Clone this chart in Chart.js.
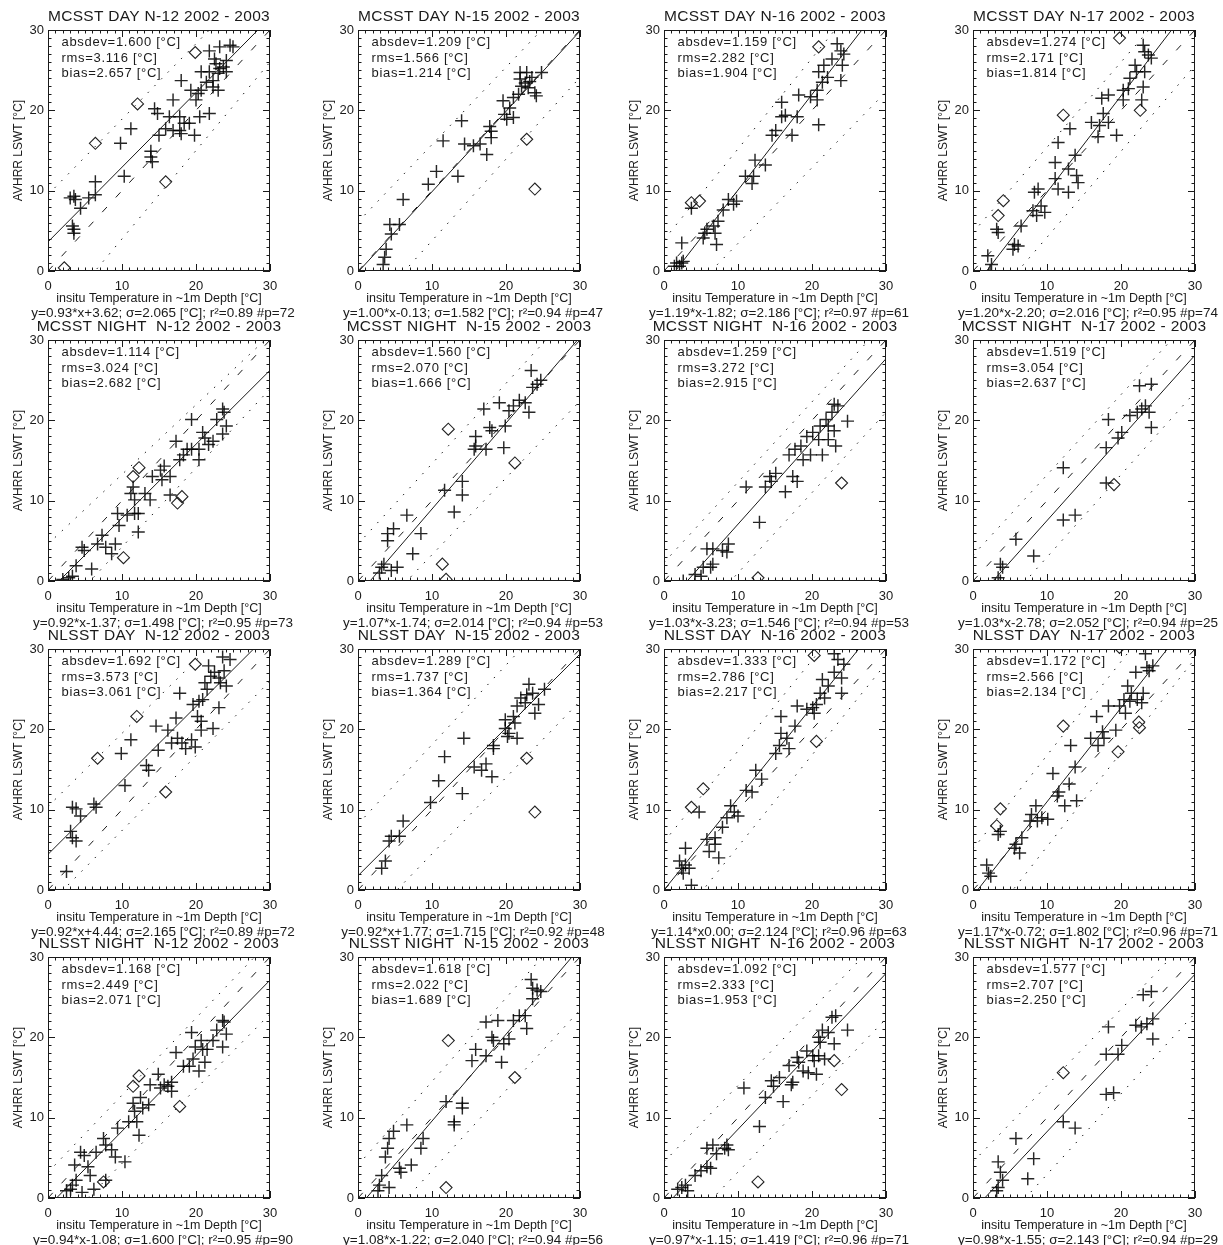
<!DOCTYPE html>
<html>
<head>
<meta charset="utf-8">
<title>AVHRR LSWT vs insitu temperature</title>
<script src="https://cdn.jsdelivr.net/npm/chart.js@4.4.1/dist/chart.umd.min.js"></script>
<style>
  html, body { margin: 0; padding: 0; background: #fff; }
  body { width: 1223px; height: 1245px; position: relative; overflow: hidden; }
  canvas { position: absolute; }
</style>
</head>
<body>
<script>
// ---- values ----
const titles = [
  "MCSST DAY N-12 2002 - 2003", "MCSST DAY N-15 2002 - 2003", "MCSST DAY N-16 2002 - 2003", "MCSST DAY N-17 2002 - 2003",
  "MCSST NIGHT  N-12 2002 - 2003", "MCSST NIGHT  N-15 2002 - 2003", "MCSST NIGHT  N-16 2002 - 2003", "MCSST NIGHT  N-17 2002 - 2003",
  "NLSST DAY  N-12 2002 - 2003", "NLSST DAY  N-15 2002 - 2003", "NLSST DAY  N-16 2002 - 2003", "NLSST DAY  N-17 2002 - 2003",
  "NLSST NIGHT  N-12 2002 - 2003", "NLSST NIGHT  N-15 2002 - 2003", "NLSST NIGHT  N-16 2002 - 2003", "NLSST NIGHT  N-17 2002 - 2003"
];
const axisTicks = [0, 10, 20, 30];

const fitA   = [0.93, 1.00, 1.19, 1.20,  0.92, 1.07, 1.03, 1.03,  0.92, 0.92, 1.14, 1.17,  0.94, 1.08, 0.97, 0.98];
const fitB   = [3.62, -0.13, -1.82, -2.20,  -1.37, -1.74, -3.23, -2.78,  4.44, 1.77, 0.00, -0.72,  -1.08, -1.22, -1.15, -1.55];
const sigma  = [2.065, 1.582, 2.186, 2.016,  1.498, 2.014, 1.546, 2.052,  2.165, 1.715, 2.124, 1.802,  1.600, 2.040, 1.419, 2.143];
const rsq    = [0.89, 0.94, 0.97, 0.95,  0.95, 0.94, 0.94, 0.94,  0.89, 0.92, 0.96, 0.96,  0.95, 0.94, 0.96, 0.94];
const nPts   = [72, 47, 61, 74,  73, 53, 53, 25,  72, 48, 63, 71,  90, 56, 71, 29];
const absdev = [1.600, 1.209, 1.159, 1.274,  1.114, 1.560, 1.259, 1.519,  1.692, 1.289, 1.333, 1.172,  1.168, 1.618, 1.092, 1.577];
const rms    = [3.116, 1.566, 2.282, 2.171,  3.024, 2.070, 3.272, 3.054,  3.573, 1.737, 2.786, 2.566,  2.449, 2.022, 2.333, 2.707];
const bias   = [2.657, 1.214, 1.904, 1.814,  2.682, 1.666, 2.915, 2.637,  3.061, 1.364, 2.217, 2.134,  2.071, 1.689, 1.953, 2.250];

// dotted band lines: [y at x=0, y at x=30]
const upperBand = [[9.5,37.7],[6.1,35.0],[3.9,37.8],[4.8,36.6], [4.6,30.6],[4.6,34.6],[2.3,32.3],[3.2,33.2],
                   [10.4,37.7],[8.2,37.9],[6.0,39.9],[5.1,40.1], [3.2,32.0],[4.1,35.3],[4.5,33.0],[4.5,33.0]];
const lowerBand = [[-7.0,26.0],[-6.4,24.1],[-6.0,22.3],[-6.5,25.6], [-5.6,23.9],[-6.3,22.4],[-9.0,21.0],[-7.3,23.5],
                   [-1.9,26.0],[-5.0,23.5],[-6.0,28.2],[-6.3,28.8], [-5.0,22.9],[-6.6,23.4],[-6.3,22.3],[-7.1,23.0]];

// scatter points [insitu, AVHRR]
const cross01 = [[3.5,9.3],[3.7,8.9],[3.0,9.1],[3.3,5.6],[3.5,4.7],[3.5,5.2],[4.4,7.8],[6.4,11.1],[6.4,9.5],[5.5,9.1],[9.8,15.9],[10.3,11.8],[11.2,17.7],[13.9,14.9],[13.9,14.2],[14.1,13.6],[14.4,20.2],[14.8,19.6],[15.0,16.9],[15.9,17.7],[16.9,21.3],[16.4,19.2],[16.9,17.5],[18.0,23.7],[17.8,19.2],[17.8,17.5],[18.4,18.4],[18.0,17.1],[19.3,22.5],[19.8,16.9],[19.1,18.4],[20.0,21.3],[20.3,22.1],[20.7,22.5],[20.5,19.2],[21.8,19.6],[20.7,24.8],[21.4,23.5],[21.8,27.4],[21.8,24.8],[22.3,23.7],[22.5,26.4],[22.7,25.8],[23.0,24.6],[23.2,25.2],[23.2,27.9],[24.6,28.1],[24.1,26.2],[23.7,25.4],[24.1,24.8],[23.0,22.5],[25.0,27.9],[22.3,22.9]];
const diam01 = [[2.2,0.4],[6.4,15.9],[12.1,20.8],[15.9,11.1],[19.9,27.2]];

const cross02 = [[3.4,0.8],[3.6,1.7],[3.8,2.7],[4.5,4.6],[4.3,5.8],[5.6,5.8],[6.1,8.9],[9.5,10.8],[10.6,12.4],[11.5,16.2],[13.5,11.8],[14.0,18.7],[14.4,15.8],[15.6,15.6],[16.5,15.8],[17.4,14.5],[17.8,18.0],[18.0,17.4],[18.0,16.6],[19.6,21.2],[19.8,19.5],[20.1,18.9],[20.5,20.3],[21.0,19.1],[21.0,21.6],[21.7,22.0],[21.9,23.9],[22.1,23.0],[22.6,23.4],[22.8,24.7],[23.0,22.8],[23.5,24.1],[23.9,22.2],[24.1,21.8],[24.8,24.7],[21.9,24.7],[23.2,23.6]];
const diam02 = [[22.8,16.4],[23.9,10.2]];

const cross03 = [[1.4,0.6],[1.7,1.0],[2.1,0.6],[2.4,1.0],[2.6,1.2],[2.4,3.5],[5.3,4.1],[5.5,4.7],[5.8,5.2],[6.7,5.6],[6.9,4.7],[7.1,3.3],[7.3,6.2],[8.0,7.6],[8.7,8.9],[9.4,8.3],[9.8,8.7],[3.7,7.8],[11.0,11.8],[11.9,10.9],[12.1,11.8],[12.3,13.8],[13.7,13.2],[14.6,16.9],[15.1,17.5],[15.9,21.0],[15.9,19.2],[16.4,19.4],[17.3,16.9],[18.2,21.9],[18.0,19.2],[19.8,21.7],[20.7,22.5],[20.7,21.3],[20.9,18.2],[20.9,24.8],[21.4,23.5],[21.6,25.6],[22.1,24.1],[22.7,26.4],[23.4,28.3],[23.9,27.4],[24.3,27.0],[23.9,23.7],[24.1,25.6]];
const diam03 = [[3.7,8.5],[4.8,8.7],[20.9,27.9]];

const cross04 = [[2.3,0.0],[2.5,0.8],[2.0,1.9],[3.2,5.2],[3.4,4.8],[5.4,2.7],[5.6,3.3],[6.1,3.1],[6.5,5.6],[8.1,7.5],[8.3,9.8],[8.8,10.2],[9.2,8.1],[9.7,7.3],[8.6,6.9],[11.1,11.5],[11.5,10.2],[11.1,13.5],[11.5,16.0],[12.9,9.8],[12.9,12.7],[13.1,17.7],[13.8,14.4],[14.0,11.9],[14.2,11.0],[16.0,18.5],[17.1,18.1],[17.6,19.6],[17.4,21.5],[16.9,16.7],[18.3,18.5],[19.4,16.9],[18.3,21.9],[20.3,22.5],[21.0,22.7],[20.3,21.3],[21.2,24.0],[21.9,25.6],[22.1,24.8],[23.0,28.1],[23.2,24.8],[23.0,22.9],[23.2,27.3],[23.7,26.9],[24.1,26.5],[22.8,21.3]];
const diam04 = [[4.1,8.75],[3.4,6.9],[12.2,19.4],[19.8,29.0],[22.6,20.0]];

const cross05 = [[2.0,0.2],[2.8,0.4],[3.3,0.6],[3.8,1.9],[4.6,4.2],[4.9,3.8],[5.9,1.5],[6.7,4.6],[7.3,5.7],[7.8,4.2],[8.6,3.4],[9.1,4.6],[9.6,6.9],[9.4,8.4],[10.7,8.2],[11.2,10.9],[11.5,11.7],[11.7,10.1],[11.7,8.4],[12.2,8.4],[12.2,6.1],[13.1,10.9],[13.8,10.1],[14.1,13.0],[15.2,13.8],[15.4,12.6],[15.7,14.3],[16.5,13.0],[16.5,10.7],[17.3,17.4],[17.8,15.1],[18.3,15.7],[18.8,16.4],[19.4,20.1],[19.4,16.4],[20.4,15.1],[20.4,16.4],[20.9,18.5],[21.2,17.8],[21.7,17.0],[22.3,17.4],[22.8,20.1],[23.6,21.4],[23.8,21.0],[24.1,19.3],[23.6,18.3]];
const diam05 = [[10.2,2.9],[11.5,13.0],[12.3,14.1],[17.5,9.7],[18.1,10.5]];

const cross06 = [[3.2,1.7],[2.9,1.0],[3.5,2.1],[4.0,5.0],[4.0,5.9],[4.8,6.5],[5.3,1.7],[4.5,1.3],[6.6,8.2],[7.4,3.4],[8.5,5.9],[11.7,11.3],[13.0,8.6],[14.1,12.4],[14.1,10.7],[15.7,16.4],[15.9,18.0],[17.0,21.4],[15.9,16.8],[17.3,16.4],[17.8,19.1],[18.1,18.7],[19.1,22.2],[19.7,16.6],[19.9,19.3],[20.4,21.2],[21.0,21.8],[22.6,22.2],[21.8,22.5],[23.1,21.0],[23.4,26.2],[23.6,24.1],[24.2,24.5],[24.7,25.0]];
const diam06 = [[12.2,18.9],[21.2,14.7],[11.4,2.1],[11.9,0.2]];

const cross07 = [[2.6,0.0],[4.2,0.8],[5.0,0.6],[5.3,1.7],[6.3,1.7],[6.6,2.1],[5.8,4.0],[6.6,4.0],[7.9,3.8],[8.5,3.6],[8.7,4.6],[11.1,11.7],[12.9,7.3],[13.7,11.7],[14.3,13.0],[15.1,13.4],[14.5,12.4],[16.4,11.1],[16.9,15.7],[17.4,13.0],[17.7,16.4],[18.0,12.4],[18.5,16.8],[18.8,15.1],[19.3,18.0],[19.8,15.7],[20.1,18.5],[20.9,17.6],[21.1,19.3],[21.4,15.7],[21.9,20.1],[22.2,19.3],[22.7,21.0],[23.0,22.0],[23.2,16.8],[23.0,18.7],[23.5,21.8],[24.8,19.9],[22.2,17.6]];
const diam07 = [[12.7,0.4],[24.0,12.2]];

const cross08 = [[3.4,0.4],[3.7,0.0],[3.7,2.1],[4.0,1.7],[5.8,5.2],[8.2,3.1],[12.2,14.1],[12.2,7.6],[13.8,8.2],[18.0,12.2],[18.3,20.1],[18.0,16.6],[19.6,17.8],[20.1,18.5],[21.2,20.6],[22.2,21.0],[22.5,24.3],[22.8,21.4],[23.3,21.8],[24.1,24.5],[24.1,19.1],[23.8,21.0]];
const diam08 = [[19.05,12.0]];

const cross09 = [[2.5,2.3],[3.05,7.3],[3.3,6.5],[3.8,6.1],[3.3,10.3],[3.8,10.1],[4.4,9.2],[6.2,10.7],[6.5,10.3],[10.4,13.0],[9.9,17.0],[11.2,18.7],[13.3,15.5],[13.6,14.9],[14.6,20.4],[14.9,17.4],[16.2,19.9],[16.7,18.3],[17.3,21.4],[17.5,18.9],[17.8,24.5],[18.1,18.3],[18.6,17.6],[19.4,18.7],[19.6,23.1],[19.9,17.8],[20.2,21.6],[20.4,23.5],[20.7,21.0],[20.7,19.9],[20.9,23.7],[21.5,25.0],[21.7,27.9],[22.0,26.6],[22.3,20.1],[22.5,27.1],[23.1,26.4],[23.3,25.8],[23.6,29.0],[23.8,27.3],[24.1,25.4],[24.6,28.7],[23.1,22.7],[21.2,25.8]];
const diam09 = [[19.9,28.1],[12.0,21.6],[6.7,16.4],[15.9,12.2]];

const cross10 = [[3.2,2.7],[3.7,3.6],[4.2,6.1],[4.5,6.7],[5.6,6.7],[6.1,8.6],[9.8,10.9],[10.9,13.6],[11.7,16.6],[14.1,12.0],[14.3,18.9],[15.7,15.3],[16.7,14.9],[17.3,15.7],[18.1,14.1],[18.3,17.6],[18.3,18.0],[19.9,21.2],[19.9,20.1],[20.2,19.1],[20.4,19.5],[21.0,21.6],[21.2,20.8],[21.5,22.9],[22.0,23.9],[22.6,23.3],[22.8,24.3],[23.1,25.6],[23.6,24.5],[23.9,22.0],[24.4,23.1],[25.2,25.0],[21.5,18.9]];
const diam10 = [[22.8,16.4],[23.9,9.7]];

const cross11 = [[2.1,3.6],[2.4,2.7],[2.9,3.1],[2.6,2.1],[2.9,5.2],[3.4,2.7],[3.7,0.6],[4.75,9.7],[5.8,6.3],[6.1,4.8],[6.9,6.5],[6.9,5.7],[7.4,4.0],[7.9,7.8],[8.5,9.0],[9.0,10.5],[9.5,9.7],[10.0,9.2],[11.1,12.4],[11.9,12.2],[12.4,14.9],[13.2,13.8],[15.1,17.0],[15.6,18.0],[15.8,19.5],[15.8,21.6],[16.6,18.9],[16.9,17.6],[17.7,20.4],[18.0,22.9],[19.3,22.5],[20.1,22.7],[20.3,22.0],[20.6,23.1],[21.1,24.5],[21.4,26.2],[21.7,23.9],[22.2,25.4],[23.0,27.1],[23.0,29.4],[23.5,28.7],[24.0,26.4],[24.3,28.1],[24.0,24.5]];
const diam11 = [[3.7,10.3],[5.3,12.6],[20.3,29.2],[20.6,18.5]];

const cross12 = [[1.85,3.1],[2.1,2.1],[2.4,1.7],[3.4,6.9],[3.7,7.3],[5.6,5.2],[5.8,5.7],[6.3,4.6],[6.6,6.5],[7.7,8.6],[7.9,9.4],[8.5,10.5],[8.7,8.6],[9.3,9.0],[10.1,8.8],[10.8,14.5],[11.4,11.7],[11.6,12.2],[12.4,10.5],[13.0,13.2],[13.2,18.0],[13.8,15.3],[14.0,11.1],[15.9,18.9],[16.7,21.6],[16.9,18.0],[17.5,19.7],[17.7,18.9],[18.3,22.9],[19.3,19.9],[19.8,22.9],[20.4,23.7],[20.6,22.0],[20.9,25.4],[21.2,23.5],[21.4,24.5],[22.0,27.1],[22.2,23.7],[22.8,23.3],[23.0,24.5],[23.3,29.4],[23.5,27.7],[23.8,27.3],[24.3,27.9]];
const diam12 = [[3.7,10.1],[3.2,8.0],[12.2,20.4],[19.6,17.2],[22.4,20.9],[22.5,20.2],[19.8,30.2]];

const cross13 = [[2.5,0.9],[3.05,1.1],[3.3,1.6],[3.8,2.2],[3.6,4.1],[4.4,5.7],[4.6,0.7],[4.9,5.3],[5.4,3.9],[5.7,2.8],[6.2,1.1],[6.5,5.7],[7.5,7.4],[7.8,2.2],[7.8,6.6],[8.6,6.0],[9.1,5.1],[9.4,8.7],[10.4,4.5],[10.9,9.5],[11.5,11.8],[11.7,10.8],[12.0,9.5],[12.3,7.8],[12.5,12.5],[13.8,14.1],[14.9,15.4],[15.2,13.7],[15.7,14.1],[16.2,13.9],[16.7,13.3],[17.3,18.1],[16.7,14.4],[18.3,16.4],[19.1,16.4],[19.4,20.6],[19.6,17.3],[19.9,18.8],[20.4,15.8],[20.7,19.6],[20.9,18.5],[21.5,18.5],[21.2,16.9],[22.3,19.6],[22.8,20.9],[23.6,22.1],[23.8,21.9],[23.6,18.8],[24.1,20.4],[12.8,11.2],[13.6,11.6]];
const diam13 = [[7.5,2.0],[11.5,13.9],[12.3,15.2],[17.8,11.4]];

const cross14 = [[2.7,0.9],[2.9,1.6],[3.2,2.8],[4.2,1.3],[4.0,6.2],[3.7,5.1],[4.2,7.4],[4.8,8.3],[5.6,3.7],[5.8,3.2],[6.6,9.1],[7.2,4.1],[8.5,6.2],[8.8,7.4],[11.9,12.0],[13.0,9.5],[13.0,9.1],[14.1,11.8],[14.1,11.2],[15.4,17.1],[15.9,18.5],[17.3,21.9],[17.3,17.7],[18.1,20.0],[18.3,19.6],[18.9,22.1],[19.4,16.9],[19.7,19.2],[20.4,19.8],[21.0,22.1],[21.8,22.7],[22.6,22.7],[22.8,21.1],[23.4,27.2],[23.6,26.1],[23.6,24.8],[24.2,25.9],[24.7,25.7]];
const diam14 = [[12.2,19.6],[21.2,15.0],[11.9,1.3]];

const cross15 = [[1.85,1.1],[2.4,1.3],[2.9,1.6],[3.2,0.9],[4.2,2.8],[5.0,3.4],[5.8,3.9],[6.3,3.7],[5.8,6.2],[6.6,6.6],[7.1,5.5],[8.2,6.2],[8.5,6.6],[8.7,6.0],[10.8,13.7],[12.9,8.9],[13.7,12.5],[14.5,14.6],[14.8,13.9],[15.6,15.0],[16.1,12.0],[16.9,16.5],[17.2,14.1],[17.4,14.4],[18.0,17.5],[18.2,16.9],[18.8,15.8],[19.3,18.3],[19.5,15.6],[20.1,17.7],[20.3,17.1],[20.6,15.4],[20.9,20.0],[21.1,19.4],[21.4,20.9],[21.7,17.3],[22.2,20.6],[22.7,22.5],[23.2,22.7],[23.0,19.2],[24.8,20.9],[20.9,17.7]];
const diam15 = [[12.7,2.0],[23.0,17.1],[24.0,13.5]];

const cross16 = [[3.2,0.9],[3.4,1.3],[3.4,4.5],[3.7,3.2],[4.0,2.2],[5.8,7.4],[7.4,2.4],[8.2,4.9],[12.2,9.5],[13.8,8.7],[18.0,12.9],[19.0,13.1],[18.3,21.3],[18.0,17.9],[19.6,17.9],[20.1,19.0],[22.0,21.5],[22.75,21.3],[23.0,25.3],[23.5,21.7],[24.1,25.7],[24.3,22.3],[24.3,19.8]];
const diam16 = [[12.2,15.6]];

const crosses = [cross01, cross02, cross03, cross04, cross05, cross06, cross07, cross08,
                 cross09, cross10, cross11, cross12, cross13, cross14, cross15, cross16];
const diamonds = [diam01, diam02, diam03, diam04, diam05, diam06, diam07, diam08,
                  diam09, diam10, diam11, diam12, diam13, diam14, diam15, diam16];

// ---- layout ----
const plotLeft = [48, 358, 664, 973];
const plotTop = [30, 340, 649, 957];
const plotW = 222, plotH = 241;
const W = 310, H = 330;
const FONT = '"Liberation Sans", Arial, sans-serif';
const INK = '#1a1a1a';

const framePlugin = {
  id: 'frame',
  afterDraw(chart, args, opts) {
    const ctx = chart.ctx, a = chart.chartArea;
    const xs = chart.scales.x, ys = chart.scales.y;
    ctx.save();
    ctx.strokeStyle = INK;
    ctx.lineWidth = 1;
    ctx.strokeRect(Math.round(a.left) + 0.5, Math.round(a.top) + 0.5, Math.round(a.width) - 1, Math.round(a.height) - 1);
    ctx.beginPath();
    for (let v = 0; v <= 30; v++) {
      const len = v % 10 === 0 ? 7 : 3.5;
      const px = Math.round(xs.getPixelForValue(v)) + 0.5;
      ctx.moveTo(px, a.bottom); ctx.lineTo(px, a.bottom - len);
      ctx.moveTo(px, a.top); ctx.lineTo(px, a.top + len);
      const py = Math.round(ys.getPixelForValue(v)) + 0.5;
      ctx.moveTo(a.left, py); ctx.lineTo(a.left + len, py);
      ctx.moveTo(a.right, py); ctx.lineTo(a.right - len, py);
    }
    ctx.stroke();

    ctx.fillStyle = INK;
    ctx.textBaseline = 'middle';
    ctx.textAlign = 'center';
    ctx.font = '15.5px ' + FONT;
    ctx.letterSpacing = '0.3px';
    ctx.fillText(opts.title, (a.left + a.right) / 2, a.top - 13);

    ctx.textAlign = 'left';
    ctx.font = '13px ' + FONT;
    ctx.letterSpacing = '0.7px';
    opts.lines.forEach(function (t, k) {
      ctx.fillText(t, a.left + 13.5, a.top + 12.5 + k * 15.5);
    });

    ctx.textAlign = 'center';
    ctx.font = '13.5px ' + FONT;
    ctx.letterSpacing = '0px';
    ctx.fillText(opts.footer, (a.left + a.right) / 2 + 4, a.bottom + 42);
    ctx.restore();
  }
};

function lineSet(y0, y30, dash) {
  return {
    data: [{x: 0, y: y0}, {x: 30, y: y30}],
    showLine: true, pointRadius: 0, borderColor: INK, borderWidth: 1,
    borderDash: dash, clip: 0
  };
}

function makePanel(i) {
  const col = i % 4, row = Math.floor(i / 4);
  const cv = document.createElement('canvas');
  cv.width = W; cv.height = H;
  cv.style.left = (plotLeft[col] - 48) + 'px';
  cv.style.top = (plotTop[row] - 30) + 'px';
  document.body.appendChild(cv);

  const a = fitA[i], b = fitB[i];
  const footer = 'y=' + a.toFixed(2) + '*x' + (b > 0 ? '+' : '') + b.toFixed(2) +
    '; \u03c3=' + sigma[i].toFixed(3) + ' [\u00b0C]; r\u00b2=' + rsq[i].toFixed(2) + ' #p=' + nPts[i];

  new Chart(cv, {
    type: 'scatter',
    data: {
      datasets: [
        lineSet(0, 30, [7, 13]),
        lineSet(b, 30 * a + b, []),
        lineSet(upperBand[i][0], upperBand[i][1], [1.5, 8]),
        lineSet(lowerBand[i][0], lowerBand[i][1], [1.5, 8]),
        {
          data: crosses[i].map(p => ({x: p[0], y: p[1]})),
          pointStyle: 'cross', pointRadius: 6.5, borderWidth: 1.45,
          borderColor: 'rgba(0,0,0,0.85)', clip: 0
        },
        {
          data: diamonds[i].map(p => ({x: p[0], y: p[1]})),
          pointStyle: 'rectRot', pointRadius: 6, borderWidth: 1.1,
          borderColor: '#222', backgroundColor: 'rgba(0,0,0,0)', clip: 0
        }
      ]
    },
    options: {
      responsive: false,
      devicePixelRatio: 1,
      animation: false,
      events: [],
      layout: { padding: { left: 0, top: 30, right: W - 48 - plotW, bottom: H - 30 - plotH - 35 } },
      plugins: {
        legend: { display: false },
        tooltip: { enabled: false },
        frame: {
          title: titles[i],
          lines: ['absdev=' + absdev[i].toFixed(3) + ' [\u00b0C]',
                  'rms=' + rms[i].toFixed(3) + ' [\u00b0C]',
                  'bias=' + bias[i].toFixed(3) + ' [\u00b0C]'],
          footer: footer
        }
      },
      scales: {
        x: {
          type: 'linear', min: 0, max: 30,
          afterBuildTicks: s => { s.ticks = axisTicks.map(v => ({value: v})); },
          ticks: { color: INK, font: { family: FONT, size: 13 }, padding: 8, maxRotation: 0 },
          grid: { display: false, drawTicks: false },
          border: { display: false },
          title: { display: true, text: 'insitu Temperature in ~1m Depth [\u00b0C]', color: INK,
                   font: { family: FONT, size: 12.5 }, padding: { top: 0, bottom: 0 } },
          afterFit: s => { s.height = 35; }
        },
        y: {
          type: 'linear', min: 0, max: 30,
          afterBuildTicks: s => { s.ticks = axisTicks.map(v => ({value: v})); },
          ticks: { color: INK, font: { family: FONT, size: 13 }, padding: 4 },
          grid: { display: false, drawTicks: false },
          border: { display: false },
          title: { display: true, text: 'AVHRR LSWT [\u00b0C]', color: INK,
                   font: { family: FONT, size: 12 }, padding: { top: 11, bottom: 0 } },
          afterFit: s => { s.width = 48; }
        }
      }
    },
    plugins: [framePlugin]
  });
}

window.addEventListener('load', function () {
  for (let i = 0; i < 16; i++) makePanel(i);
});
</script>
</body>
</html>
